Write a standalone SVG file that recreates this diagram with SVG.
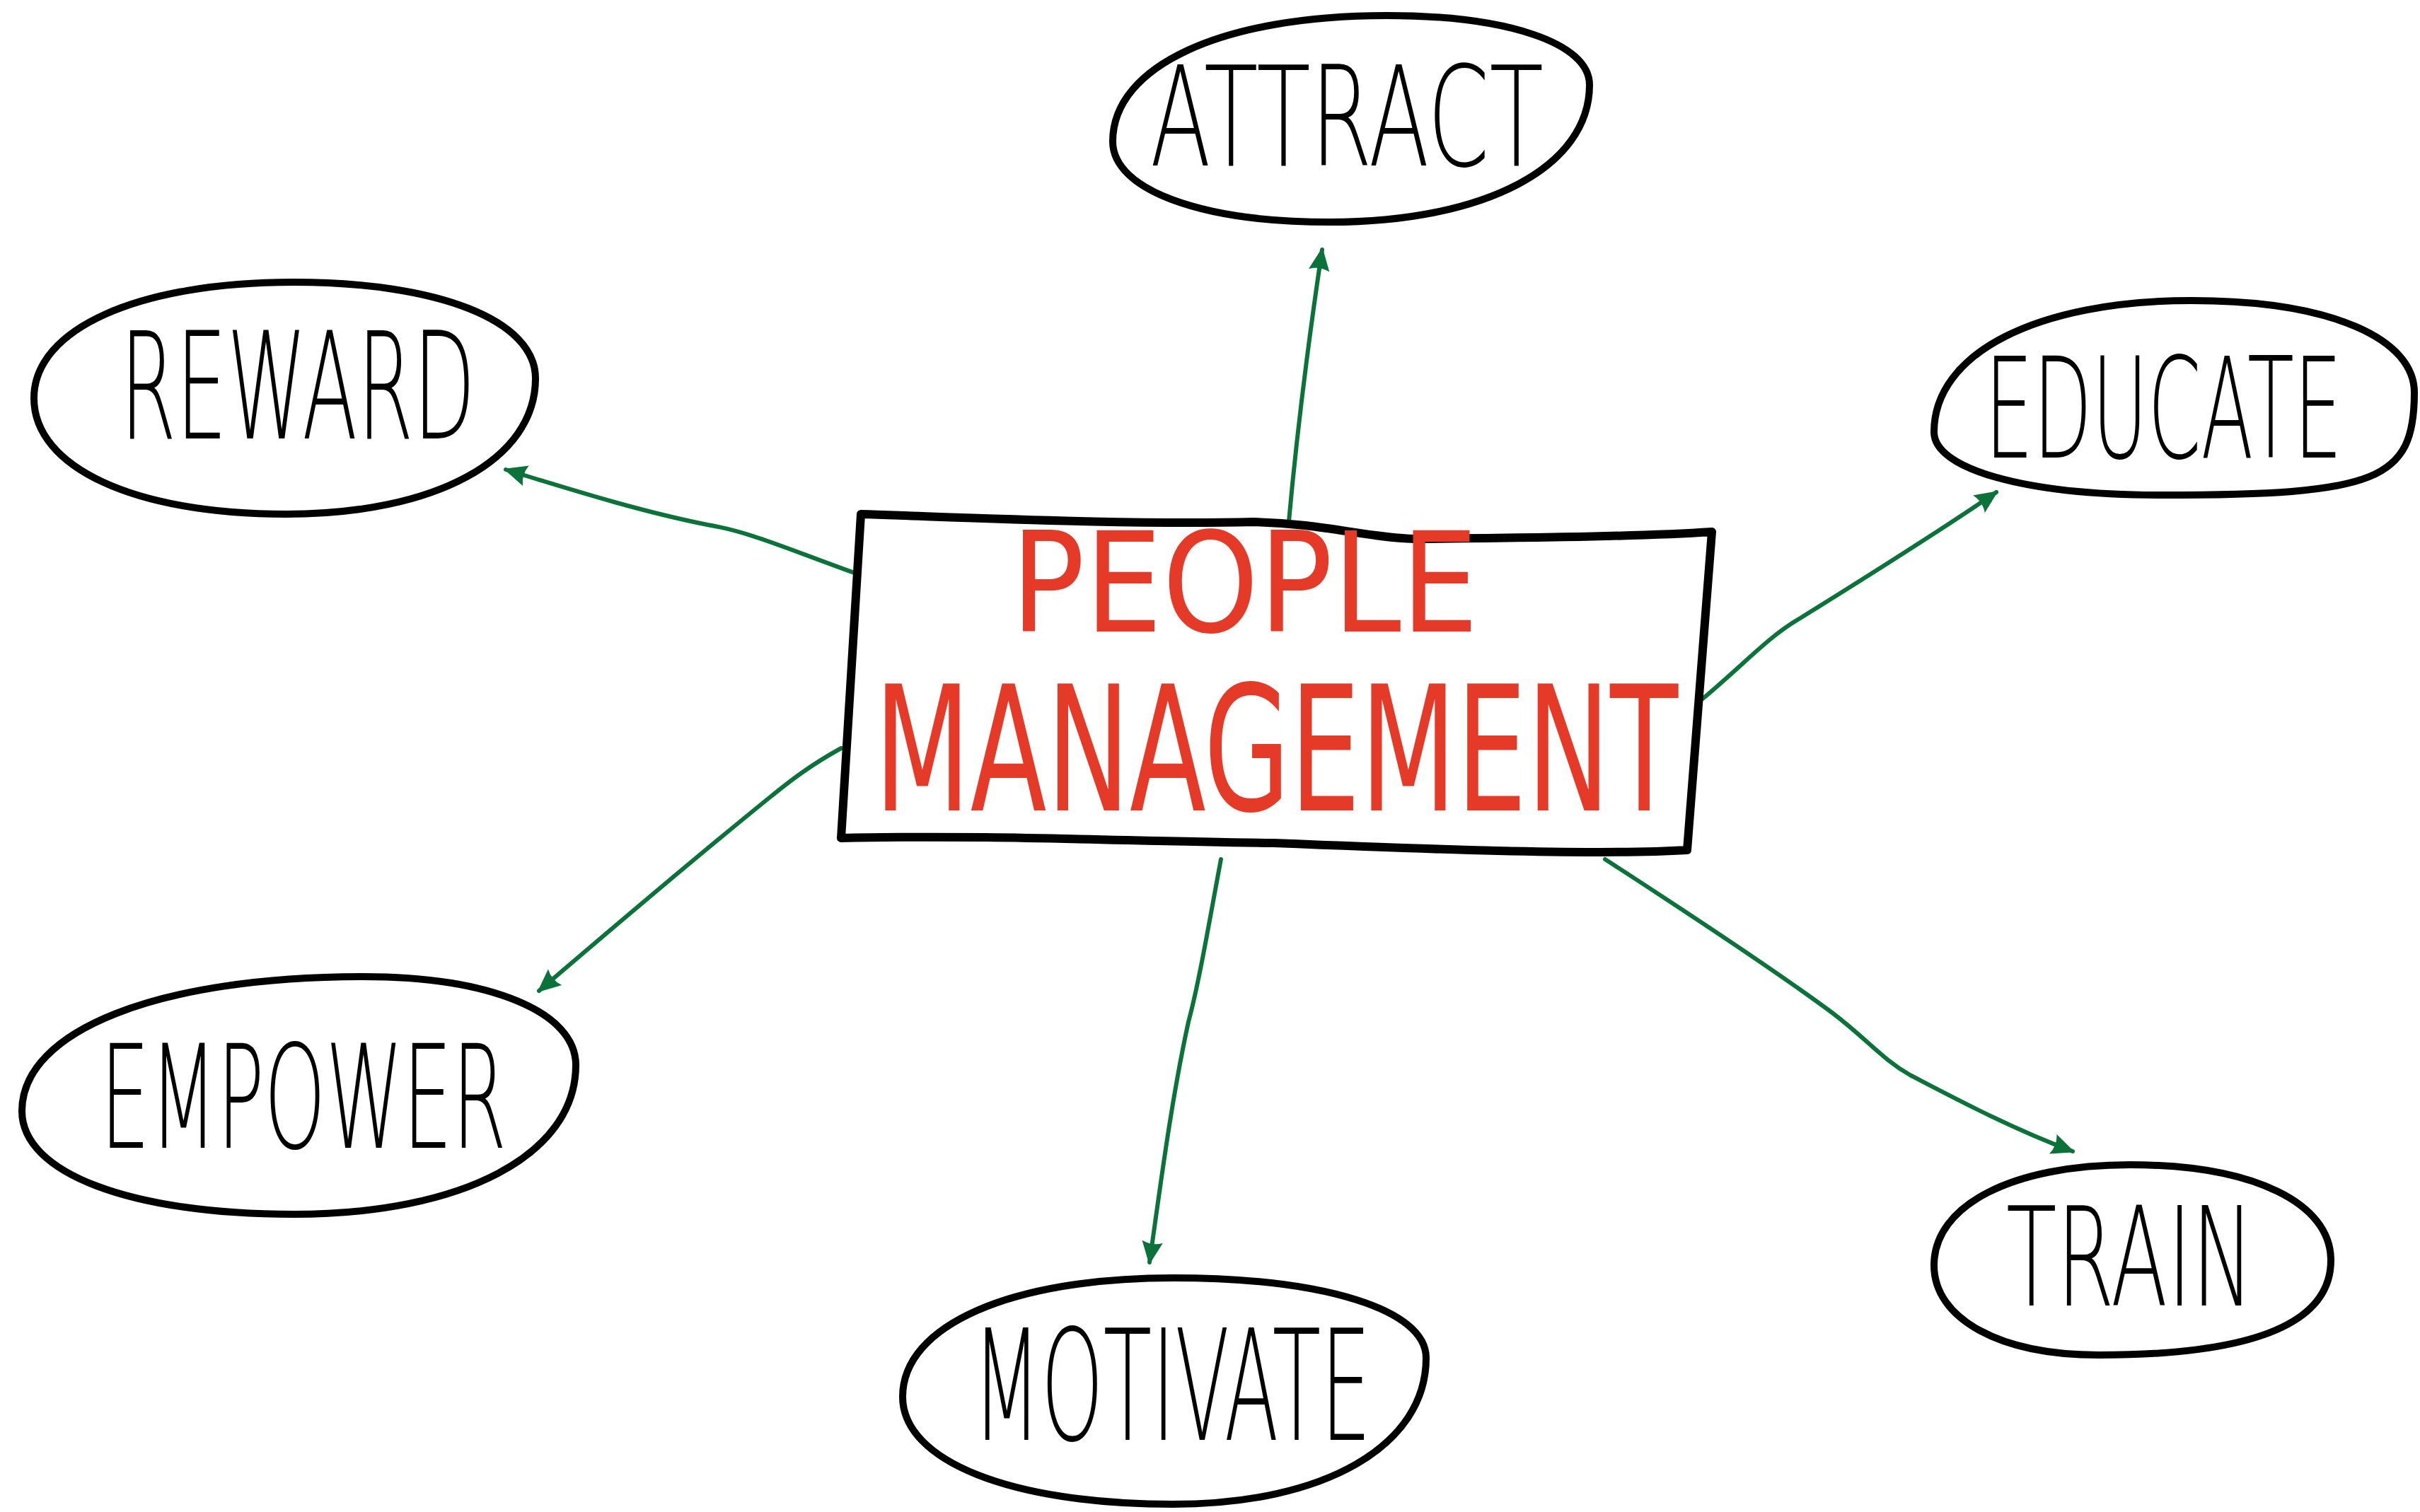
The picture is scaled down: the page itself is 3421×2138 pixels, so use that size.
<svg xmlns="http://www.w3.org/2000/svg" width="3421" height="2138" viewBox="0 0 3421 2138">
<defs>
<marker id="arr" viewBox="0 0 10 10" refX="9" refY="5" markerWidth="5.5" markerHeight="5.5" orient="auto" markerUnits="strokeWidth">
<path d="M0,0.5 L10,5 L0,9.5 Q2,5 0,0.5 z" fill="#0b7339"/>
</marker>
</defs>
<style>
.blob{fill:#ffffff;stroke:#000000;stroke-width:10;stroke-linejoin:round;stroke-linecap:round}
.box{fill:#ffffff;stroke:#000000;stroke-width:12;stroke-linejoin:round;stroke-linecap:round}
.lbl{font-family:"DejaVu Sans","Liberation Sans",sans-serif;font-weight:200;fill:#000000}
.main{font-family:"Liberation Sans Narrow","DejaVu Sans Condensed","Liberation Sans",sans-serif;fill:#e63a28}
.conn{fill:none;stroke:#0b7339;stroke-width:6;stroke-linecap:round;stroke-linejoin:round}
</style>
<rect width="3421" height="2138" fill="#ffffff"/>
<g id="connectors">
<path class="conn" d="M1822,737 Q1838,560 1869,353" marker-end="url(#arr)"/>
<path class="conn" d="M1213,812 C1110,775 1060,752 1000,742 C900,722 800,690 715,664" marker-end="url(#arr)"/>
<path class="conn" d="M2407,988 C2470,935 2500,900 2545,874 C2640,815 2740,752 2822,696" marker-end="url(#arr)"/>
<path class="conn" d="M1189,1058 C1140,1085 1110,1110 1090,1126 C980,1215 880,1300 762,1401" marker-end="url(#arr)"/>
<path class="conn" d="M1726,1215 C1710,1300 1695,1390 1680,1445 C1655,1560 1640,1680 1625,1785" marker-end="url(#arr)"/>
<path class="conn" d="M2269,1215 C2400,1300 2520,1380 2590,1432 C2640,1470 2660,1497 2700,1520 C2780,1562 2850,1598 2930,1628" marker-end="url(#arr)"/>
</g>
<g id="node-people-management">
<path class="box" d="M1217,727 C1400,733 1600,742 1772,738 C1870,740 1930,760 2000,762 C2200,760 2330,758 2420,752 L2385,1202 C2250,1210 2000,1200 1800,1192 C1600,1190 1400,1180 1189,1185 Z"/>
<text class="main" x="1429" y="893" font-size="196" textLength="661" lengthAdjust="spacingAndGlyphs">PEOPLE</text>
<text class="main" x="1236" y="1146" font-size="246" textLength="1136" lengthAdjust="spacingAndGlyphs">MANAGEMENT</text>
</g>
<g id="node-attract">
<path class="blob" d="M1573,200 C1573,93 1728,22 1960,22 C2132,22 2247,61 2247,120 C2247,236 2100,314 1880,314 C1696,314 1573,268 1573,200 Z"/>
<text class="lbl" x="1626" y="234" font-size="196" textLength="556" lengthAdjust="spacingAndGlyphs">ATTRACT</text>
</g>
<g id="node-reward">
<path class="blob" d="M48,563 C48,465 195,399 415,399 C620,399 757,453 757,535 C757,650 616,727 404,727 C190,727 48,661 48,563 Z"/>
<text class="lbl" x="170" y="620" font-size="210" textLength="502" lengthAdjust="spacingAndGlyphs">REWARD</text>
</g>
<g id="node-educate">
<path class="blob" d="M2734,611 C2734,499 2880,425 3098,425 C3298,425 3413,480 3413,555 C3413,680 3360,700 3055,700 C2862,700 2734,663 2734,611 Z"/>
<text class="lbl" transform="translate(2806,647) scale(1,1.8)" x="0" y="0" font-size="110" textLength="505" lengthAdjust="spacingAndGlyphs">EDUCATE</text>
</g>
<g id="node-empower">
<path class="blob" d="M31,1571 C31,1457 224,1381 513,1381 C694,1381 814,1431 814,1506 C814,1633 654,1717 415,1717 C185,1717 31,1659 31,1571 Z"/>
<text class="lbl" x="142" y="1623" font-size="203" textLength="574" lengthAdjust="spacingAndGlyphs">EMPOWER</text>
</g>
<g id="node-motivate">
<path class="blob" d="M1276,1975 C1276,1874 1429,1807 1658,1807 C1873,1807 2016,1852 2016,1920 C2016,2044 1873,2127 1658,2127 C1429,2127 1276,2066 1276,1975 Z"/>
<text class="lbl" x="1375" y="2036" font-size="218" textLength="563" lengthAdjust="spacingAndGlyphs">MOTIVATE</text>
</g>
<g id="node-train">
<path class="blob" d="M2734,1789 C2734,1704 2845,1647 3011,1647 C3188,1647 3295,1702 3295,1782 C3295,1865 3200,1916 2967,1916 C2827,1916 2734,1865 2734,1789 Z"/>
<text class="lbl" transform="translate(2836,1846) scale(1,1.8)" x="0" y="0" font-size="108" textLength="350" lengthAdjust="spacingAndGlyphs">TRAIN</text>
</g>
</svg>
